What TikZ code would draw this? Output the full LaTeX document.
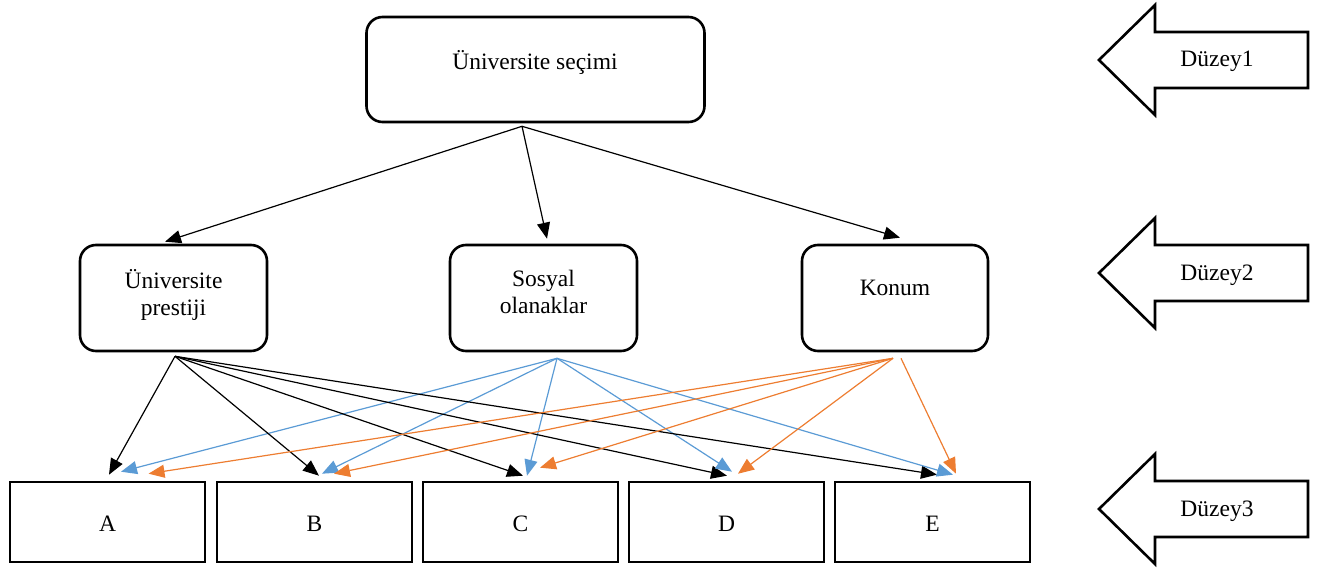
\documentclass[tikz,border=0pt]{standalone}
\usepackage{fontspec}
\setmainfont{Liberation Serif}
\usetikzlibrary{arrows.meta,calc}
\definecolor{linkblue}{RGB}{91,155,213}
\definecolor{linkorange}{RGB}{237,125,49}

\begin{document}
\begin{tikzpicture}[x=1pt,y=-1pt,
  roundbox/.style={draw, line width=2.6pt, rounded corners=16pt, inner sep=0pt},
  plainbox/.style={draw, line width=2.6pt, inner sep=0pt,
                   minimum width=195pt, minimum height=80pt},
  lbl/.style={inner sep=0pt, font=\fontsize{23.5}{27}\selectfont},
  link/.style={line width=1.2pt, -{Triangle[length=16pt,width=13pt]}},
  blacklink/.style={link, black},
  bluelink/.style={link, linkblue},
  orangelink/.style={link, linkorange},
  levelarrow/.pic={
    \draw[line width=2.6pt, line join=miter]
      (0,0) -- (56,-55) -- (56,-28) -- (209,-28) -- (209,28)
      -- (56,28) -- (56,55) -- cycle;
    \node[lbl, anchor=base] at (118,7) {\tikzpictext};
  }]

\useasboundingbox (0,0) rectangle (1319,569);

% level 1
\node[roundbox, minimum width=338pt, minimum height=105pt] (top) at (535.5,69.5) {};
\node[lbl, anchor=base] (top-text) at (535,70) {Üniversite seçimi};

% level 2
\node[roundbox, minimum width=187pt, minimum height=106pt] (pres) at (173.5,298) {};
\node[roundbox, minimum width=187pt, minimum height=106pt] (sos) at (543.5,298) {};
\node[roundbox, minimum width=186pt, minimum height=106pt] (kon) at (895,298) {};
\node[lbl, anchor=base] (pres-text) at (173.5,288)
  {\begin{tabular}[t]{@{}c@{}}Üniversite\\prestiji\end{tabular}};
\node[lbl, anchor=base] (sos-text) at (543.5,287)
  {\begin{tabular}[t]{@{}c@{}}Sosyal\\olanaklar\end{tabular}};
\node[lbl, anchor=base] (kon-text) at (895,295) {Konum};

% level 3
\foreach \name/\cx in {A/107.5, B/314.5, C/520.5, D/726.5, E/932.5}{
  \node[plainbox] (\name) at (\cx,522) {};
  \node[lbl, anchor=base] (\name-text) at (\cx,531) {\name};
}

% level markers
\pic[pic text=Düzey1] at (1099,60) {levelarrow};
\pic[pic text=Düzey2] at (1099,273) {levelarrow};
\pic[pic text=Düzey3] at (1099,509) {levelarrow};

% connector end points
\coordinate (top-src) at ($(top.south)+(-13.5,3)$);
\coordinate (pres-in) at ($(pres.north)+(-8.5,-2)$);
\coordinate (sos-in)  at ($(sos.north)+(3.5,-5)$);
\coordinate (kon-in)  at ($(kon.north)+(5,-6)$);

\coordinate (pres-src) at ($(pres.south)+(1.5,4)$);
\coordinate (sos-src)  at ($(sos.south)+(13.5,6)$);
\coordinate (kon-src)  at ($(kon.south)+(-2,6)$);
\coordinate (kon-src2) at ($(kon.south)+(6,6)$);

\coordinate (A-k) at ($(A.north)+(1.5,-6)$);
\coordinate (A-b) at ($(A.north)+(13.5,-9)$);
\coordinate (A-o) at ($(A.north)+(41,-7)$);
\coordinate (B-k) at ($(B.north)+(4.5,-5)$);
\coordinate (B-b) at ($(B.north)+(7.5,-7)$);
\coordinate (B-o) at ($(B.north)+(19.5,-7)$);
\coordinate (C-k) at ($(C.north)+(2.5,-5)$);
\coordinate (C-b) at ($(C.north)+(6.5,-5)$);
\coordinate (C-o) at ($(C.north)+(19.5,-13)$);
\coordinate (D-k) at ($(D.north)+(0.5,-5)$);
\coordinate (D-b) at ($(D.north)+(5.5,-9)$);
\coordinate (D-o) at ($(D.north)+(11.5,-7)$);
\coordinate (E-k) at ($(E.north)+(4.5,-6)$);
\coordinate (E-b) at ($(E.north)+(20.5,-6)$);
\coordinate (E-o) at ($(E.north)+(23.5,-7)$);

% level 1 -> level 2
\draw[blacklink] (top-src) -- (pres-in);
\draw[blacklink] (top-src) -- (sos-in);
\draw[blacklink] (top-src) -- (kon-in);

% level 2 -> level 3
\foreach \t in {A,B,C,D,E}{
  \draw[blacklink] (pres-src) -- (\t-k);
  \draw[bluelink] (sos-src) -- (\t-b);
}
\foreach \t in {A,B,C,D}{
  \draw[orangelink] (kon-src) -- (\t-o);
}
\draw[orangelink] (kon-src2) -- (E-o);

\end{tikzpicture}
\end{document}
